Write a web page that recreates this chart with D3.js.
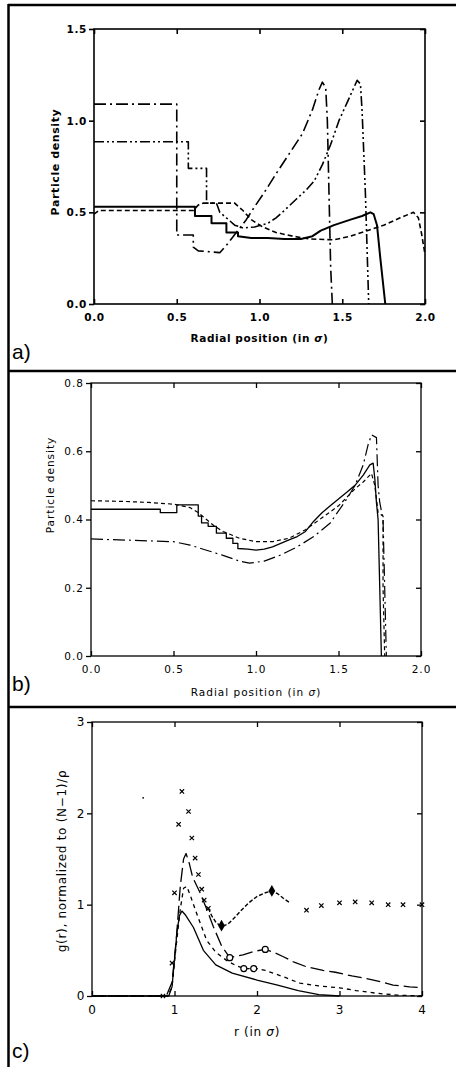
<!DOCTYPE html>
<html>
<head>
<meta charset="utf-8">
<script src="https://cdn.jsdelivr.net/npm/d3@7"></script>
<style>
body{margin:0;background:#fff}
svg{display:block}
</style>
</head>
<body>
<div id="fig"></div>
<script>
'use strict'
// ---- panel a : particle density vs radial position ----
const aSolid=[[0,0.53],[0.61,0.53],[0.61,0.48],[0.71,0.48],[0.71,0.44],[0.8,0.44],[0.8,0.39],[0.87,0.39],[0.87,0.37],[0.95,0.36],[1.05,0.36],[1.15,0.355],[1.25,0.355],[1.32,0.37],[1.37,0.4],[1.45,0.43],[1.55,0.46],[1.62,0.48],[1.67,0.5],[1.69,0.49],[1.71,0.43],[1.73,0.25],[1.76,0]]
const aDash=[[0,0.49],[0.03,0.51],[0.6,0.51],[0.63,0.54],[0.66,0.55],[0.85,0.55],[0.9,0.51],[0.95,0.46],[1.02,0.42],[1.1,0.39],[1.2,0.37],[1.3,0.355],[1.45,0.35],[1.55,0.37],[1.65,0.4],[1.75,0.43],[1.85,0.47],[1.93,0.5],[1.96,0.47],[1.98,0.38],[2.0,0.27]]
const aDashDot=[[0,1.09],[0.5,1.09],[0.5,0.376],[0.6,0.376],[0.6,0.31],[0.63,0.29],[0.76,0.28],[0.8,0.32],[0.86,0.39],[0.92,0.46],[0.97,0.53],[1.03,0.61],[1.1,0.71],[1.18,0.82],[1.26,0.93],[1.32,1.06],[1.36,1.17],[1.38,1.21],[1.4,1.18],[1.41,1.0],[1.42,0.6],[1.43,0.2],[1.44,0]]
const aDashDotDot=[[0,0.885],[0.57,0.885],[0.57,0.74],[0.68,0.74],[0.68,0.55],[0.74,0.55],[0.76,0.5],[0.8,0.47],[0.85,0.43],[0.9,0.415],[0.97,0.42],[1.05,0.44],[1.1,0.47],[1.15,0.51],[1.22,0.57],[1.28,0.62],[1.33,0.67],[1.38,0.76],[1.43,0.87],[1.48,1.0],[1.53,1.1],[1.57,1.18],[1.59,1.22],[1.61,1.2],[1.62,1.05],[1.64,0.6],[1.66,0]]
const aXTicks=[0,0.5,1,1.5,2]
const aYTicks=[0,0.5,1,1.5]

// ---- panel b ----
const bSolid=[[0,0.43],[0.42,0.43],[0.42,0.42],[0.52,0.42],[0.52,0.443],[0.65,0.443],[0.65,0.41],[0.67,0.41],[0.67,0.39],[0.71,0.39],[0.71,0.38],[0.76,0.38],[0.76,0.36],[0.82,0.36],[0.82,0.345],[0.86,0.345],[0.86,0.33],[0.89,0.33],[0.89,0.315],[0.95,0.313],[1.0,0.31],[1.05,0.313],[1.1,0.32],[1.15,0.33],[1.2,0.34],[1.25,0.35],[1.3,0.365],[1.35,0.395],[1.4,0.42],[1.45,0.44],[1.5,0.46],[1.55,0.48],[1.6,0.5],[1.65,0.53],[1.69,0.56],[1.71,0.565],[1.72,0.52],[1.73,0.45],[1.74,0.4],[1.75,0.2],[1.76,0]]
const bDash=[[0,0.455],[0.2,0.453],[0.35,0.45],[0.5,0.445],[0.6,0.435],[0.65,0.42],[0.7,0.4],[0.75,0.38],[0.8,0.365],[0.9,0.345],[1.0,0.335],[1.1,0.335],[1.2,0.345],[1.3,0.37],[1.4,0.405],[1.5,0.44],[1.55,0.465],[1.6,0.49],[1.65,0.51],[1.7,0.535],[1.72,0.5],[1.74,0.42],[1.77,0.41],[1.77,0.2],[1.78,0]]
const bDashDot=[[0,0.343],[0.5,0.335],[0.6,0.325],[0.7,0.31],[0.8,0.295],[0.9,0.278],[0.96,0.272],[1.05,0.278],[1.15,0.296],[1.25,0.32],[1.35,0.35],[1.45,0.39],[1.55,0.46],[1.6,0.5],[1.65,0.56],[1.68,0.62],[1.7,0.648],[1.73,0.64],[1.74,0.5],[1.75,0.45],[1.77,0.4],[1.78,0.2],[1.79,0]]
const bXTicks=[0,0.5,1,1.5,2]
const bYTicks=[0,0.2,0.4,0.6,0.8]

// ---- panel c : g(r) ----
const cSolid=[[0,0],[0.93,0],[0.97,0.1],[1.0,0.4],[1.03,0.7],[1.06,0.88],[1.09,0.93],[1.13,0.89],[1.23,0.75],[1.35,0.5],[1.5,0.34],[1.7,0.25],[2.0,0.175],[2.25,0.12],[2.5,0.06],[2.75,0.015],[3.0,0]]
const cDash=[[0,0],[0.92,0],[0.97,0.1],[1.02,0.55],[1.07,0.95],[1.11,1.18],[1.15,1.2],[1.2,1.08],[1.27,0.9],[1.39,0.61],[1.5,0.48],[1.63,0.39],[1.75,0.33],[1.85,0.3],[2.0,0.3],[2.1,0.28],[2.2,0.25],[2.35,0.2],[2.52,0.14],[2.75,0.11],[3.0,0.09],[3.2,0.06],[3.45,0.03],[3.7,0.01],[4.0,0]]
const cLongDash=[[0,0],[0.9,0],[0.97,0.15],[1.02,0.6],[1.07,1.2],[1.11,1.5],[1.14,1.56],[1.18,1.45],[1.22,1.3],[1.31,1.13],[1.4,0.93],[1.47,0.76],[1.57,0.55],[1.67,0.42],[1.83,0.45],[1.97,0.49],[2.1,0.51],[2.2,0.48],[2.32,0.43],[2.45,0.37],[2.6,0.32],[2.8,0.28],[2.95,0.26],[3.15,0.22],[3.33,0.19],[3.5,0.155],[3.65,0.12],[3.85,0.1],[4.0,0.09]]
const cDotted=[[1.41,0.96],[1.45,0.88],[1.5,0.81],[1.55,0.77],[1.6,0.77],[1.65,0.79],[1.72,0.85],[1.8,0.93],[1.9,1.02],[2.0,1.09],[2.1,1.13],[2.18,1.15],[2.25,1.12],[2.32,1.07],[2.4,1.02]]
const cCrosses=[[0.86,0],[0.97,0.36],[1.0,1.13],[1.05,1.88],[1.09,2.24],[1.17,2.02],[1.21,1.73],[1.25,1.51],[1.29,1.33],[1.33,1.17],[1.36,1.05],[1.41,0.96],[2.6,0.94],[2.78,0.99],[3.0,1.02],[3.19,1.03],[3.39,1.02],[3.59,1.0],[3.77,1.0],[4.0,1.0]]
const cDiamonds=[[1.57,0.77],[2.18,1.15]]
const cCircles=[[1.67,0.42],[2.1,0.51],[1.84,0.3],[1.96,0.3]]
const cStray=[[0.62,2.17]]
const cXTicks=[0,1,2,3,4]
const cYTicks=[0,1,2,3]

const W=456,H=1067
let svg=d3.select("#fig").append("svg").attr("width",W).attr("height",H)

// outer frame and panel separators
let frame=svg.append("g").attr("stroke","#000").attr("stroke-width",2.5)
frame.append("line").attr("x1",8).attr("x2",W).attr("y1",5).attr("y2",5)
frame.append("line").attr("x1",8.5).attr("x2",8.5).attr("y1",4).attr("y2",H)
frame.append("line").attr("x1",8).attr("x2",W).attr("y1",371).attr("y2",371)
frame.append("line").attr("x1",8).attr("x2",W).attr("y1",707).attr("y2",707)

function panel(o){
let g=svg.append("g").attr("font-family",o.font).attr("font-weight",o.weight).attr("fill","#000")
let x=d3.scaleLinear().domain(o.xd).range([o.l,o.r])
let y=d3.scaleLinear().domain(o.yd).range([o.b,o.t])
let fx=d3.format(o.xf),fy=d3.format(o.yf)
g.append("g").attr("transform","translate(0,"+o.b+")").call(d3.axisBottom(x).tickValues(o.xt).tickFormat(fx).tickSizeInner(-5).tickSizeOuter(0).tickPadding(o.xpad))
g.append("g").attr("transform","translate("+o.l+",0)").call(d3.axisLeft(y).tickValues(o.yt).tickFormat(fy).tickSizeInner(5).tickSizeOuter(0).tickPadding(2))
g.append("g").attr("transform","translate(0,"+o.t+")").call(d3.axisTop(x).tickValues(o.xt).tickFormat("").tickSizeInner(-5).tickSizeOuter(0))
g.append("g").attr("transform","translate("+o.r+",0)").call(d3.axisRight(y).tickValues(o.yt).tickFormat("").tickSizeInner(-5).tickSizeOuter(0))
g.selectAll(".domain").remove()
g.selectAll(".tick line").attr("stroke","#000").attr("stroke-width",o.sw)
g.selectAll(".tick text").attr("fill","#000").attr("font-size",o.fs).attr("font-family",o.font).attr("font-weight",o.weight).attr("letter-spacing",o.ls)
g.append("rect").attr("x",o.l).attr("y",o.t).attr("width",o.r-o.l).attr("height",o.b-o.t).attr("fill","none").attr("stroke","#000").attr("stroke-width",o.sw)
let line=d3.line().x(d=>x(d[0])).y(d=>y(d[1]))
o.series.forEach(function(s){
g.append("path").attr("d",line(s.data)).attr("fill","none").attr("stroke","#000").attr("stroke-width",s.w).attr("stroke-dasharray",s.dash).attr("stroke-linejoin","round")})
// axis titles
let xt=g.append("text").attr("x",(o.l+o.r)/2).attr("y",o.xtY).attr("text-anchor","middle").attr("font-size",o.tfs).attr("letter-spacing",o.ls).text(o.xTitle)
xt.append("tspan").attr("font-style","italic").text("σ")
xt.append("tspan").text(")")
g.append("text").attr("transform","translate("+o.ytX+","+o.ytY+")rotate(-90)").attr("text-anchor","middle").attr("font-size",o.yfs).attr("letter-spacing",o.ls).text(o.yTitle)
svg.append("text").attr("x",12).attr("y",o.tagY).attr("font-family","Liberation Sans, Arial, sans-serif").attr("font-size",21).text(o.tag)
return {g:g,x:x,y:y}}

panel({l:94,r:425,t:29,b:304,xd:[0,2],yd:[0,1.5],xt:aXTicks,yt:aYTicks,xf:".1f",yf:".1f",
font:"DejaVu Sans",weight:"bold",fs:10.5,tfs:10.5,yfs:11,ls:0.6,sw:1.6,xpad:10,
xTitle:"Radial position (in ",yTitle:"Particle density",xtY:342,ytX:59,ytY:162,tagY:359,tag:"a)",
series:[{data:aSolid,w:2,dash:null},{data:aDash,w:1.6,dash:"5,3"},{data:aDashDot,w:1.6,dash:"12,4,2,4"},{data:aDashDotDot,w:1.6,dash:"10,3,2,3,2,3"}]})

panel({l:91,r:421,t:383,b:656,xd:[0,2],yd:[0,0.8],xt:bXTicks,yt:bYTicks,xf:".1f",yf:".1f",
font:"DejaVu Sans",weight:"normal",fs:10.5,tfs:10.5,yfs:10.5,ls:1,sw:1.3,xpad:10,
xTitle:"Radial position (in ",yTitle:"Particle density",xtY:696,ytX:54,ytY:485,tagY:691,tag:"b)",
series:[{data:bSolid,w:1.3,dash:null},{data:bDash,w:1.2,dash:"4,3"},{data:bDashDot,w:1.2,dash:"12,4,2,4"}]})

let pc=panel({l:92,r:422,t:722,b:996,xd:[0,4],yd:[0,3],xt:cXTicks,yt:cYTicks,xf:"d",yf:"d",
font:"DejaVu Sans",weight:"normal",fs:12,tfs:12,yfs:12,ls:0.7,sw:1.3,xpad:9,
xTitle:"r (in ",yTitle:"g(r), normalized to (N−1)/ρ",xtY:1036,ytX:66,ytY:861,tagY:1058,tag:"c)",
series:[{data:cSolid,w:1.3,dash:null},{data:cDash,w:1.3,dash:"4,4"},{data:cLongDash,w:1.3,dash:"14,5"},{data:cDotted,w:1.4,dash:"4,2"}]})

// markers in panel c
let cx=pc.x,cy=pc.y
pc.g.selectAll("path.cross").data(cCrosses).enter().append("path").attr("class","cross")
.attr("d",d3.symbol(d3.symbolX,14)).attr("transform",d=>"translate("+cx(d[0])+","+cy(d[1])+")").attr("stroke","#000").attr("stroke-width",1.2).attr("fill","none")
pc.g.selectAll("path.dia").data(cDiamonds).enter().append("path").attr("class","dia")
.attr("d",d3.symbol(d3.symbolDiamond,40)).attr("transform",d=>"translate("+cx(d[0])+","+cy(d[1])+")").attr("fill","#000")
pc.g.selectAll("circle.mk").data(cCircles).enter().append("circle").attr("class","mk")
.attr("cx",d=>cx(d[0])).attr("cy",d=>cy(d[1])).attr("r",3).attr("fill","#fff").attr("stroke","#000").attr("stroke-width",1.2)
pc.g.selectAll("circle.st").data(cStray).enter().append("circle").attr("class","st")
.attr("cx",d=>cx(d[0])).attr("cy",d=>cy(d[1])).attr("r",0.9).attr("fill","#000")
</script>
</body>
</html>
